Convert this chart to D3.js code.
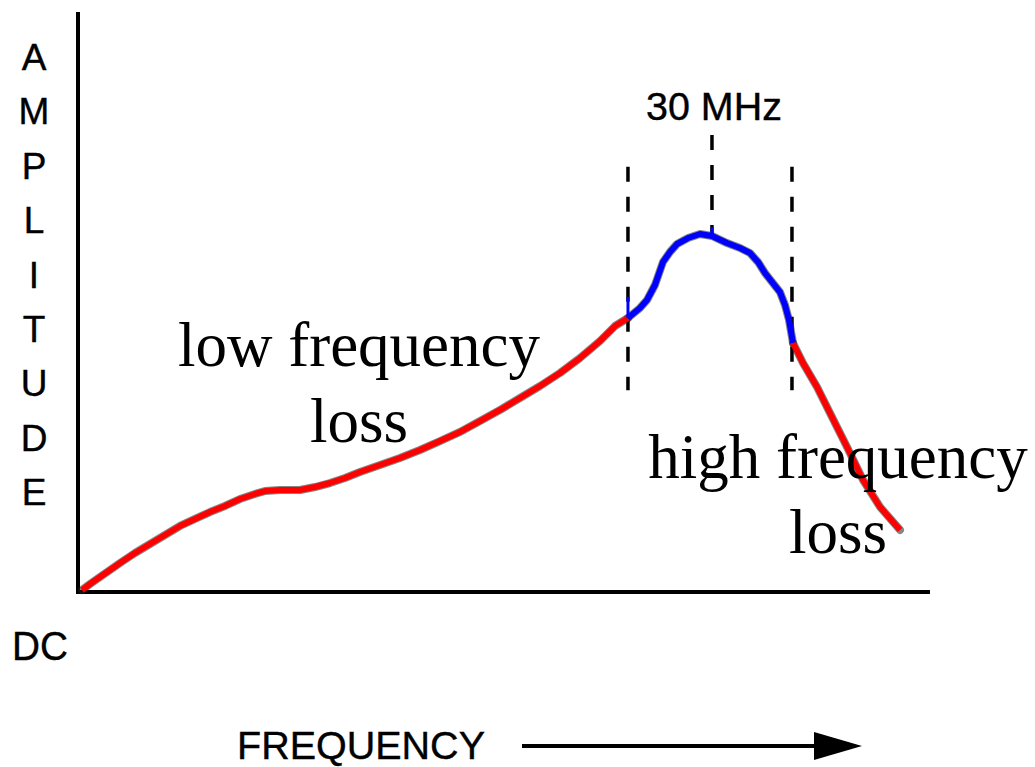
<!DOCTYPE html>
<html>
<head>
<meta charset="utf-8">
<script src="https://cdn.jsdelivr.net/npm/d3@7/dist/d3.min.js"></script>
<style>
html,body{margin:0;padding:0;background:#fff;}
svg{display:block;}
</style>
</head>
<body>
<svg id="chart" width="1035" height="767"></svg>
<script>
// ---- data (frequency 0-100 arbitrary units, amplitude 0-100 arbitrary units) ----
const lowLossFreq = [0.47,1.41,2.58,3.76,4.93,6.69,8.45,10.21,11.97,13.73,15.49,17.25,19.01,20.77,21.95,23.71,26.06,27.82,29.58,31.34,33.10,35.45,37.79,40.14,42.49,44.84,47.18,49.53,51.88,54.23,56.57,58.92,61.27,63.03,64.55];
const lowLossAmp  = [0.34,1.38,2.59,3.79,5.00,6.72,8.28,9.83,11.38,12.59,13.79,14.83,16.03,16.90,17.41,17.59,17.59,18.10,18.79,19.66,20.69,21.90,23.10,24.48,26.03,27.59,29.48,31.38,33.45,35.52,37.76,40.34,43.28,45.86,47.24];
const passFreq = [64.55,65.96,66.78,67.72,68.66,69.48,70.31,71.60,73.00,74.41,76.17,77.70,78.87,79.81,80.63,81.46,82.39,82.98,83.45,83.92];
const passAmp  = [47.24,48.97,50.34,52.93,56.90,58.62,60.00,61.03,61.72,61.38,60.17,59.31,58.45,56.90,55.00,53.45,51.72,49.48,46.90,42.93];
const highLossFreq = [83.92,85.09,86.74,88.26,90.26,92.14,94.13,96.48];
const highLossAmp  = [42.93,39.48,35.34,30.86,25.00,19.31,14.66,10.69];
const markerFreq = [64.55, 74.41, 83.80];          // band edges and centre (30 MHz)
const markerTop  = [73.3, 78.8, 73.3];             // top of each dashed line (amplitude units)
const markerBottom = [34.8, 61.4, 34.8];
const yAxisLetters = ["A","M","P","L","I","T","U","D","E"];
const centreLabel = "30 MHz";
const xAxisTitle = "FREQUENCY";
const originLabel = "DC";
const lowLossLabel = ["low frequency","loss"];
const highLossLabel = ["high frequency","loss"];

// ---- layout ----
const svg = d3.select("#chart");
const x = d3.scaleLinear().domain([0,100]).range([78,930]);
const y = d3.scaleLinear().domain([0,100]).range([592,12]);

// axes (plain lines, no ticks)
const xAxis = d3.axisBottom(x).tickValues([]).tickSizeOuter(0);
const yAxis = d3.axisLeft(y).tickValues([]).tickSizeOuter(0);
svg.append("g").attr("transform",`translate(0,${y(0)})`).call(xAxis)
  .select(".domain").attr("stroke","#000").attr("stroke-width",4).attr("d",`M${x(0)-2},0H${x(100)}`);
svg.append("g").attr("transform",`translate(${x(0)},0)`).call(yAxis)
  .select(".domain").attr("stroke","#000").attr("stroke-width",4).attr("d",`M0,${y(100)}V${y(0)+2}`);

// dashed markers
markerFreq.forEach((f,i)=>{
  svg.append("line")
    .attr("x1",x(f)).attr("x2",x(f))
    .attr("y1",y(markerTop[i])).attr("y2",y(markerBottom[i]))
    .attr("stroke","#000").attr("stroke-width",3.5)
    .attr("stroke-dasharray","15,15");
});

// curve
const line = d3.line().x(d=>x(d[0])).y(d=>y(d[1])).curve(d3.curveLinear);
const segs = [
  {f:lowLossFreq, a:lowLossAmp, c:"#ff0000"},
  {f:passFreq, a:passAmp, c:"#0000ff"},
  {f:highLossFreq, a:highLossAmp, c:"#ff0000"}
];
segs.forEach(s=>{
  const pts = s.f.map((f,i)=>[f,s.a[i]]);
  svg.append("path").attr("d",line(pts)).attr("fill","none")
    .attr("stroke","#222").attr("stroke-opacity",0.55).attr("stroke-width",8)
    .attr("stroke-linejoin","round").attr("stroke-linecap","round");
});
segs.forEach(s=>{
  const pts = s.f.map((f,i)=>[f,s.a[i]]);
  svg.append("path").attr("d",line(pts)).attr("fill","none")
    .attr("stroke",s.c).attr("stroke-width",6)
    .attr("stroke-linejoin","round").attr("stroke-linecap","butt");
});
// small blue ticks on the markers
svg.append("line").attr("x1",x(markerFreq[0])).attr("x2",x(markerFreq[0]))
  .attr("y1",y(50.9)).attr("y2",y(47.2)).attr("stroke","#0000ff").attr("stroke-width",3);
svg.append("line").attr("x1",x(markerFreq[1])).attr("x2",x(markerFreq[1]))
  .attr("y1",y(62.9)).attr("y2",y(61.0)).attr("stroke","#0000ff").attr("stroke-width",3);

// sans labels
const sans = "'Liberation Sans', Arial, Helvetica, sans-serif";
yAxisLetters.forEach((ch,i)=>{
  svg.append("text").attr("x",34).attr("y",70+i*54.4)
    .attr("text-anchor","middle").attr("font-family",sans).attr("font-size",37)
    .attr("stroke","#000").attr("stroke-width",0.4)
    .attr("fill","#000").text(ch);
});
svg.append("text").attr("x",12).attr("y",660).attr("font-family",sans).attr("font-size",40)
  .attr("stroke","#000").attr("stroke-width",0.4)
  .attr("textLength",56).attr("lengthAdjust","spacingAndGlyphs").text(originLabel);
svg.append("text").attr("x",646).attr("y",120).attr("font-family",sans).attr("font-size",39)
  .attr("stroke","#000").attr("stroke-width",0.4)
  .attr("textLength",136).attr("lengthAdjust","spacingAndGlyphs").text(centreLabel);
svg.append("text").attr("x",237).attr("y",759).attr("font-family",sans).attr("font-size",39)
  .attr("stroke","#000").attr("stroke-width",0.4)
  .attr("textLength",248).attr("lengthAdjust","spacingAndGlyphs").text(xAxisTitle);

// arrow
svg.append("line").attr("x1",522).attr("x2",816).attr("y1",746).attr("y2",746)
  .attr("stroke","#000").attr("stroke-width",4);
svg.append("path").attr("d","M814,732L862,746L814,760Z").attr("fill","#000");

// serif annotations
const serif = "'Liberation Serif', 'Times New Roman', Times, serif";
function twoLine(lines, cx, y1, y2){
  svg.append("text").attr("x",cx).attr("y",y1).attr("text-anchor","middle")
    .attr("font-family",serif).attr("font-size",63).text(lines[0]);
  svg.append("text").attr("x",cx).attr("y",y2).attr("text-anchor","middle")
    .attr("font-family",serif).attr("font-size",63).text(lines[1]);
}
twoLine(lowLossLabel, 359, 366, 442);
twoLine(highLossLabel, 838, 478, 553);
</script>
</body>
</html>
